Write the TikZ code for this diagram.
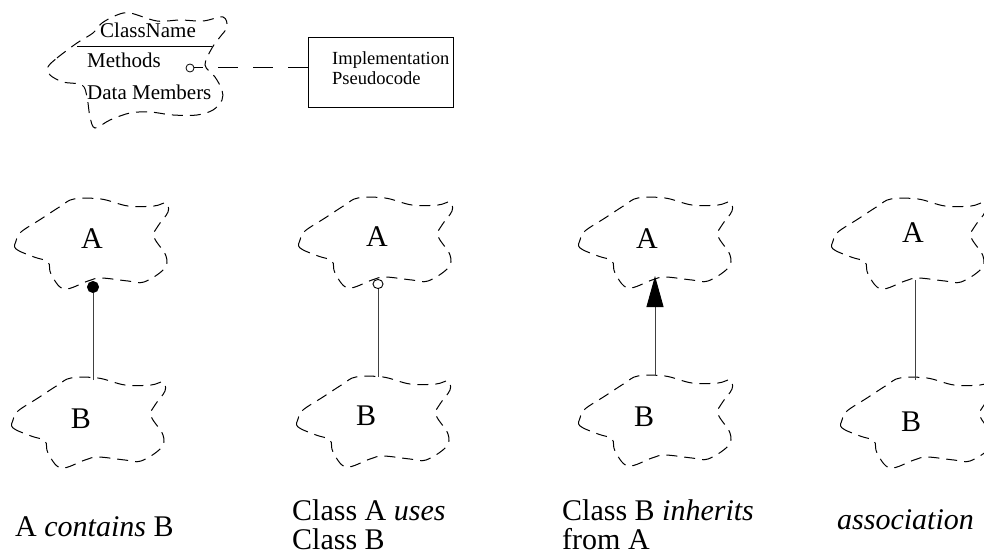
\documentclass[tikz,border=0pt]{standalone}
\usepackage{fontspec}
\setmainfont{Liberation Serif}
\usetikzlibrary{arrows.meta}
\begin{document}
\begin{tikzpicture}[x=1pt,y=-1pt,
  cloudline/.style={draw=black, line width=1pt, dash pattern=on 11pt off 7pt},
  big/.style={font=\fontsize{30}{30}\selectfont, inner sep=0pt},
  captext/.style={font=\fontsize{30}{30}\selectfont, inner sep=0pt, anchor=base west},
  small/.style={font=\fontsize{21}{21}\selectfont, inner sep=0pt, anchor=base west},
  impltext/.style={font=\fontsize{18.5}{18.5}\selectfont, inner sep=0pt, anchor=base west},
  link/.style={line width=0.9pt, draw=black!75},
  boochcloud/.pic={\path[cloudline] plot[smooth cycle, tension=0.6] coordinates {
    (-75,-3) (-75,5) (-57,13) (-43,18) (-40,30) (-27,45) (-3,37) (10,34)
    (37,37) (53,38) (73,25) (75,12) (63,-7) (67,-18) (77,-32) (75,-41)
    (63,-38) (37,-38) (10,-45) (-17,-45) (-30,-38) (-50,-25) (-70,-12)};}
]
\useasboundingbox (0,0) rectangle (984,556);

% ---------- top legend cloud ----------
\path[cloudline] plot[smooth cycle, tension=0.55] coordinates {
  (48,67) (57,58) (77,43) (93,33) (102,23) (117,15) (130,13) (157,21) (180,20)
  (203,21) (223,17) (227,27) (220,37) (212,48) (205,65) (215,77) (222,90)
  (222,100) (213,110) (197,115) (173,115) (150,112) (130,113) (110,120)
  (95,128) (90,117) (87,97) (82,85) (63,82) (50,75)};
\node[small] (cn) at (100,38) {ClassName};
\coordinate (sepL) at (77,47);
\coordinate (sepR) at (212,47);
\draw[line width=1pt] (sepL) -- (sepR);
\node[small] (meth) at (87,68) {Methods};
\node[small] (dm) at (87,100) {Data Members};
\node[circle, draw, line width=0.8pt, inner sep=0pt, minimum size=8pt] (mc) at (190,68) {};
\node[draw, line width=1pt, minimum width=145pt, minimum height=70pt, inner sep=0pt] (impl) at (380.5,73) {};
\node[impltext] (t1) at (332,65) {Implementation};
\node[impltext] (t2) at (332,85) {Pseudocode};
\draw[line width=1pt, dash pattern=on 20pt off 15pt, dash phase=11pt] (mc.east) -- (mc -| impl.west);

% ---------- clouds ----------
\pic at (91,244) {boochcloud};
\pic at (88,423) {boochcloud};
\pic at (375,243) {boochcloud};
\pic at (373,422) {boochcloud};
\pic at (655,243) {boochcloud};
\pic at (655,421) {boochcloud};
\pic at (908,244) {boochcloud};
\pic at (917,423) {boochcloud};

\node[big] (A1) at (92,239) {A};
\node[big] (B1) at (81,419) {B};
\node[big] (A2) at (377,237) {A};
\node[big] (B2) at (366,416) {B};
\node[big] (A3) at (647,239) {A};
\node[big] (B3) at (644,417) {B};
\node[big] (A4) at (913,233) {A};
\node[big] (B4) at (911,422) {B};

% ---------- connectors ----------
\coordinate (a1b) at (93,281);
\coordinate (b1t) at (93,380);
\draw[link, -{Circle[length=12pt,width=12pt,color=black]}] (b1t) -- (a1b);
\coordinate (a2b) at (378,279);
\coordinate (b2t) at (378,377);
\draw[link, -{Circle[open,length=10pt,width=11pt,color=black]}] (b2t) -- (a2b);
\coordinate (a3b) at (655,276);
\coordinate (b3t) at (655,376);
\draw[link, -{Triangle[length=31pt,width=17pt,color=black]}] (b3t) -- (a3b);
\coordinate (a4b) at (915,280);
\coordinate (b4t) at (915,380);
\draw[link] (b4t) -- (a4b);

% ---------- captions ----------
\node[captext] (c1) at (15,536) {A \textit{contains} B};
\node[captext] (c2a) at (292,520) {Class A \textit{uses}};
\node[captext] (c2b) at (292,549) {Class B};
\node[captext] (c3a) at (562,520) {Class B \textit{inherits}};
\node[captext] (c3b) at (562,549) {from A};
\node[captext] (c4) at (837,529) {\textit{association}};
\end{tikzpicture}
\end{document}
